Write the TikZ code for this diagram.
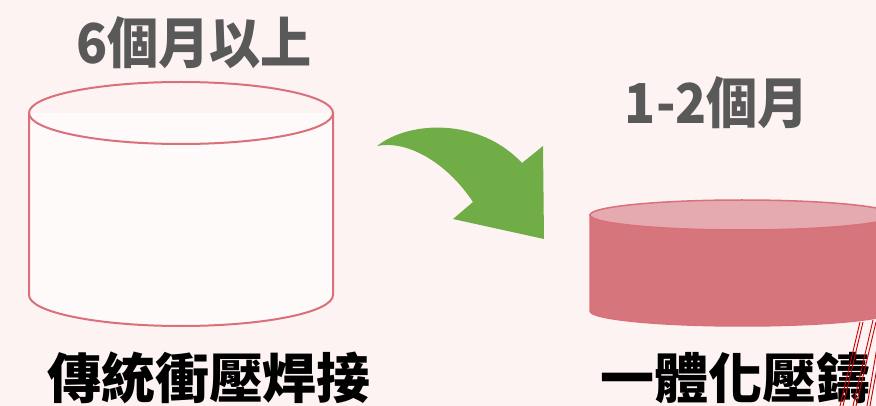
\documentclass[tikz,border=0pt]{standalone}
\usepackage{fontspec}
\usepackage{graphicx}
\newfontfamily\cjk{Noto Sans CJK TC}
\definecolor{bgpink}{HTML}{FDF3F3}
\definecolor{cylline}{HTML}{D9707A}
\definecolor{cylside}{HTML}{D6767C}
\definecolor{cyltop}{HTML}{E5AAAF}
\definecolor{arrgreen}{HTML}{70AD47}
\definecolor{txtgray}{HTML}{595959}
\tikzset{
  graytext/.style={font=\cjk\bfseries\fontsize{55}{55}\selectfont, text=txtgray, inner sep=0pt, anchor=base},
  blacktext/.style={font=\cjk\bfseries\fontsize{54}{54}\selectfont, text=black, inner sep=0pt, anchor=base},
  cylstroke/.style={draw=cylline, line width=2pt},
  hatch/.style={draw=red!80!black, line width=0.9pt}
}
\begin{document}
\begin{tikzpicture}[x=1pt,y=-1pt]
\useasboundingbox (0,0) rectangle (876,406);
\fill[bgpink] (0,0) rectangle (876,406);
% left cylinder (outline)
\draw[cylstroke, fill=white!60!bgpink] (29,113) -- (29,295) arc[start angle=180, end angle=360, x radius=152, y radius=-31] -- (333,113);
\draw[cylstroke] (181,113) ellipse [x radius=152, y radius=31];
% right cylinder (filled)
\begin{scope}
\clip (0,0) rectangle (876,406);
\filldraw[draw=cylline, line width=1.5pt, fill=cylside] (590,215) -- (590,311) arc[start angle=180, end angle=360, x radius=152, y radius=-15] -- (894,215) -- cycle;
\filldraw[draw=cylline, line width=1.5pt, fill=cyltop] (742,215) ellipse [x radius=152, y radius=15];
\end{scope}
% green arrow
\fill[arrgreen] (377,146) .. controls (410,120) and (480,118) .. (522,163) -- (543,146) -- (544,239) -- (453,219) -- (473,202) .. controls (445,160) and (405,140) .. (377,146) -- cycle;
% texts
\node[graytext] (t1) at (194,64) {\scalebox{0.93}[1]{6個月以上}};
\node[graytext] (t2) at (717,124) {\scalebox{0.93}[1]{1-2個月}};
\node[blacktext] (l1) at (209,398) {傳統衝壓焊接};
\node[blacktext] (l2) at (735,398) {一體化壓鑄};
% red hatch lines
\begin{scope}
\clip (0,0) rectangle (876,406);
\draw[hatch] (860,322) -- (840,406);
\draw[hatch] (863,322) -- (843,406);
\draw[hatch] (873,320) -- (853,406);
\draw[hatch] (876,322) -- (856,406);
\draw[hatch] (880,330) -- (867,406);
\draw[hatch] (884,330) -- (870,406);
\end{scope}
\end{tikzpicture}
\end{document}
